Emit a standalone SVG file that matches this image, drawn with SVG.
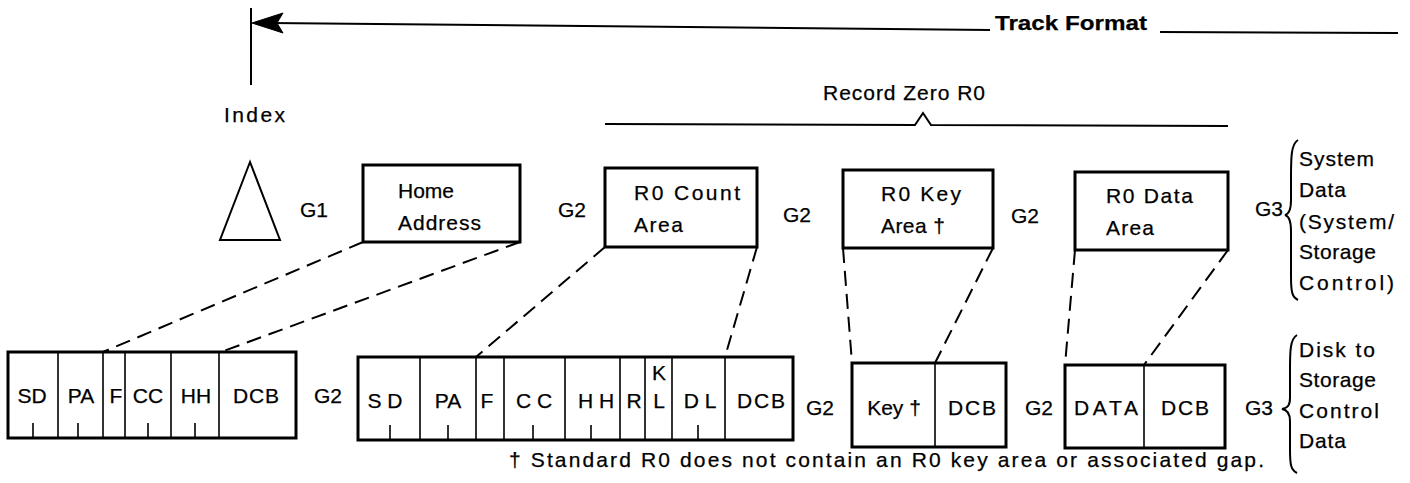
<svg xmlns="http://www.w3.org/2000/svg" width="1410" height="483" viewBox="0 0 1410 483">
<style>
text{font-family:"Liberation Sans",Arial,sans-serif;font-size:21px;fill:#000;stroke:#000;stroke-width:0.25}
.b{font-weight:bold}
.m{text-anchor:middle}
.box{fill:#fff;stroke:#000;stroke-width:3}
.div{stroke:#000;stroke-width:1.6;fill:none}
.dash{stroke:#000;stroke-width:2;fill:none;stroke-dasharray:15 8}
.ln{stroke:#000;stroke-width:2;fill:none}
</style>
<g id="track-format">
<line class="ln" x1="251" y1="8" x2="251" y2="85"/>
<line class="ln" x1="270" y1="23" x2="990" y2="30"/>
<path d="M252,23 L283,13 L277,23 L283,33 Z" fill="#000" stroke="#000" stroke-width="1"/>
<text class="b" x="995" y="30" textLength="152" lengthAdjust="spacingAndGlyphs">Track Format</text>
<line class="ln" x1="1160" y1="32" x2="1398" y2="33"/>
</g>
<g id="index">
<text x="224" y="122" textLength="61" lengthAdjust="spacing">Index</text>
<polygon points="250,162 220,240 280,240" fill="none" stroke="#000" stroke-width="2"/>
</g>
<g id="record-zero">
<text x="823" y="100" textLength="162" lengthAdjust="spacing">Record Zero R0</text>
<polyline class="ln" points="605,124 915,125 923,113 931,125 1228,126"/>
</g>
<g id="gaps-top">
<text x="300" y="217">G1</text>
<text x="558" y="217">G2</text>
<text x="783" y="222">G2</text>
<text x="1011" y="223">G2</text>
</g>
<g id="home-address">
<rect class="box" x="363" y="165" width="157" height="77"/>
<text x="398" y="198" textLength="56" lengthAdjust="spacing">Home</text>
<text x="398" y="230" textLength="83" lengthAdjust="spacing">Address</text>
</g>
<g id="r0-count">
<rect class="box" x="605" y="168" width="152" height="79"/>
<text x="634" y="200" textLength="106" lengthAdjust="spacing">R0 Count</text>
<text x="634" y="232" textLength="49" lengthAdjust="spacing">Area</text>
</g>
<g id="r0-key">
<rect class="box" x="843" y="170" width="150" height="78"/>
<text x="881" y="201" textLength="80" lengthAdjust="spacing">R0 Key</text>
<text x="881" y="233" textLength="64" lengthAdjust="spacing">Area †</text>
</g>
<g id="r0-data">
<rect class="box" x="1075" y="172" width="153" height="78"/>
<text x="1106" y="203" textLength="87" lengthAdjust="spacing">R0 Data</text>
<text x="1106" y="235" textLength="48" lengthAdjust="spacing">Area</text>
</g>
<g id="g3-system">
<text x="1255" y="216">G3</text>
<path class="ln" d="M1298,140 C1291,144 1291,158 1291,178 L1291,200 C1291,210 1289,214 1285,215 C1289,216 1291,221 1291,231 L1291,276 C1291,292 1292,297 1298,300" stroke-width="2.5"/>
<text x="1299" y="166" textLength="75" lengthAdjust="spacing">System</text>
<text x="1299" y="197" textLength="47" lengthAdjust="spacing">Data</text>
<text x="1299" y="229" textLength="95" lengthAdjust="spacing">(System/</text>
<text x="1299" y="259" textLength="77" lengthAdjust="spacing">Storage</text>
<text x="1299" y="290" textLength="95" lengthAdjust="spacing">Control)</text>
</g>
<g id="ha-field">
<rect class="box" x="8" y="352" width="288" height="86"/>
<path class="div" d="M58,352V438M103,352V438M125,352V438M171,352V438M219,352V438M33,423V438M78,423V438M148,423V438M195,423V438"/>
<text class="m" x="32" y="403">SD</text>
<text class="m" x="81" y="403">PA</text>
<text class="m" x="116" y="403">F</text>
<text class="m" x="148" y="403">CC</text>
<text class="m" x="196" y="403">HH</text>
<text class="m" x="256" y="403" textLength="46" lengthAdjust="spacing">DCB</text>
</g>
<g id="count-field">
<rect class="box" x="358" y="357" width="435" height="83"/>
<path class="div" d="M420,357V440M476,357V440M504,357V440M565,357V440M620,357V440M645,357V440M672,357V440M725,357V440M390,425V440M448,425V440M533,425V440M591,425V440M698,425V440"/>
<text class="m" x="385" y="408">S D</text>
<text class="m" x="448" y="408">PA</text>
<text class="m" x="487" y="408">F</text>
<text class="m" x="534" y="408">C C</text>
<text class="m" x="596" y="408">H H</text>
<text class="m" x="634" y="408">R</text>
<text class="m" x="659" y="380">K</text>
<text class="m" x="659" y="408">L</text>
<text class="m" x="700" y="408">D L</text>
<text class="m" x="761" y="408" textLength="48" lengthAdjust="spacing">DCB</text>
</g>
<g id="key-field">
<rect class="box" x="852" y="363" width="154" height="84"/>
<line class="div" x1="935" y1="363" x2="935" y2="447"/>
<text class="m" x="894" y="415">Key †</text>
<text class="m" x="972" y="415" textLength="48" lengthAdjust="spacing">DCB</text>
</g>
<g id="data-field">
<rect class="box" x="1065" y="365" width="160" height="83"/>
<line class="div" x1="1144" y1="365" x2="1144" y2="448"/>
<text class="m" x="1106" y="415" textLength="64" lengthAdjust="spacing">DATA</text>
<text class="m" x="1185" y="415" textLength="48" lengthAdjust="spacing">DCB</text>
</g>
<g id="gaps-bottom">
<text x="314" y="403">G2</text>
<text x="806" y="415">G2</text>
<text x="1025" y="415">G2</text>
</g>
<g id="g3-disk">
<text x="1245" y="415">G3</text>
<path class="ln" d="M1297,335 C1290,339 1290,352 1290,370 L1290,398 C1290,405 1288,408 1282,409 C1288,410 1290,414 1290,421 L1290,450 C1290,465 1291,470 1297,473" stroke-width="2.5"/>
<text x="1299" y="357" textLength="76" lengthAdjust="spacing">Disk to</text>
<text x="1299" y="387" textLength="77" lengthAdjust="spacing">Storage</text>
<text x="1299" y="418" textLength="80" lengthAdjust="spacing">Control</text>
<text x="1299" y="448" textLength="47" lengthAdjust="spacing">Data</text>
</g>
<g id="footnote">
<text x="509" y="467" textLength="755" lengthAdjust="spacing">† Standard R0 does not contain an R0 key area or associated gap.</text>
</g>
<g id="connectors">
<line class="dash" x1="363" y1="242" x2="103" y2="352"/>
<line class="dash" x1="520" y1="242" x2="221" y2="352"/>
<line class="dash" x1="605" y1="247" x2="476" y2="357"/>
<line class="dash" x1="757" y1="247" x2="725" y2="357"/>
<line class="dash" x1="843" y1="248" x2="852" y2="363"/>
<line class="dash" x1="993" y1="248" x2="935" y2="363"/>
<line class="dash" x1="1075" y1="250" x2="1065" y2="365"/>
<line class="dash" x1="1228" y1="250" x2="1144" y2="365"/>
</g>
</svg>
